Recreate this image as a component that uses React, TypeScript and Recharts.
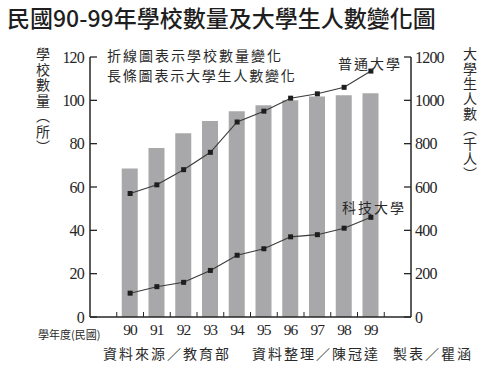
import { ComposedChart, Bar, Line, XAxis, YAxis } from "recharts";

// 民國90-99年 學校數量(折線, 左軸) 與 大學生人數(長條, 右軸)
const years = ["90", "91", "92", "93", "94", "95", "96", "97", "98", "99"];
const students = [685, 780, 848, 905, 950, 977, 1000, 1018, 1024, 1033]; // 千人
const generalUniv = [57, 61, 68, 76, 90, 95, 101, 103, 106, 113.5]; // 普通大學(所)
const techUniv = [11, 14, 16, 21.5, 28.5, 31.5, 37, 38, 41, 46]; // 科技大學(所)
const leftTicks = [0, 20, 40, 60, 80, 100, 120];
const rightTicks = [0, 200, 400, 600, 800, 1000, 1200];

const data = years.map((year, i) => ({
  year,
  students: students[i],
  general: generalUniv[i],
  tech: techUniv[i],
}));

const W = 490;
const H = 366;
const PLOT = { left: 90, right: 411, top: 57, bottom: 317 };
const Y_AXIS_W = 40;
const X_AXIS_H = 30;
const pad = (PLOT.right - PLOT.left) / 12;

const INK = "#262626";
const BAR = "#a8a8aa";
const NUM_FONT = '"Liberation Serif", "DejaVu Serif", serif';
const CJK_FONT = '"Noto Sans CJK TC", "Noto Sans CJK SC", sans-serif';

function LeftTick(props: any) {
  const { x, y, payload } = props;
  return (
    <g>
      <line x1={x} x2={x + 7} y1={y} y2={y} stroke={INK} strokeWidth={1.3} />
      <text x={x - 6} y={y} dy="0.36em" textAnchor="end" fill={INK} fontFamily={NUM_FONT} fontSize={16} letterSpacing={-0.8}>
        {payload.value}
      </text>
    </g>
  );
}

function RightTick(props: any) {
  const { x, y, payload } = props;
  return (
    <g>
      <line x1={x} x2={x - 7} y1={y} y2={y} stroke={INK} strokeWidth={1.3} />
      <text x={x + 4} y={y} dy="0.36em" textAnchor="start" fill={INK} fontFamily={NUM_FONT} fontSize={16} letterSpacing={-0.8}>
        {payload.value}
      </text>
    </g>
  );
}

// category tick: label under the bar, small inward marks on the band edges
function YearTick(props: any) {
  const { x, y, payload, index, visibleTicksCount } = props;
  const half = pad / 2;
  const base = PLOT.bottom;
  const last = index === (visibleTicksCount ?? years.length) - 1;
  return (
    <g>
      <line x1={x - half} x2={x - half} y1={base} y2={base - 5} stroke={INK} strokeWidth={1} />
      {last && <line x1={x + half} x2={x + half} y1={base} y2={base - 5} stroke={INK} strokeWidth={1} />}
      <text x={x} y={y} dy="0.71em" textAnchor="middle" fill={INK} fontFamily={NUM_FONT} fontSize={15.5} letterSpacing={-0.8}>
        {payload.value}
      </text>
    </g>
  );
}

function SquareDot(props: any) {
  const { cx, cy } = props;
  return <rect x={cx - 2.5} y={cy - 2.5} width={5} height={5} fill="#1e1e1e" />;
}

const cjk = (size: number, extra: any = {}) => ({
  position: "absolute" as const,
  fontFamily: CJK_FONT,
  fontSize: size,
  lineHeight: 1,
  color: "#2a2a2a",
  whiteSpace: "nowrap" as const,
  ...extra,
});

export default function App() {
  return (
    <div style={{ position: "absolute", left: 0, top: 0, width: W, height: H, background: "#fff", overflow: "hidden" }}>
      <ComposedChart
        width={W}
        height={H}
        data={data}
        margin={{
          top: PLOT.top,
          left: PLOT.left - Y_AXIS_W,
          right: W - PLOT.right - Y_AXIS_W,
          bottom: H - PLOT.bottom - X_AXIS_H,
        }}
      >
        <XAxis
          dataKey="year"
          height={X_AXIS_H}
          padding={{ left: pad, right: pad }}
          axisLine={{ stroke: INK, strokeWidth: 1.5 }}
          tickLine={false}
          tickSize={0}
          tickMargin={7}
          interval={0}
          tick={(p: any) => <YearTick {...p} />}
        />
        <YAxis
          yAxisId="left"
          orientation="left"
          width={Y_AXIS_W}
          domain={[0, 120]}
          ticks={leftTicks}
          axisLine={{ stroke: INK, strokeWidth: 1.5 }}
          tickLine={false}
          tickSize={0}
          tickMargin={0}
          tick={(p: any) => <LeftTick {...p} />}
        />
        <YAxis
          yAxisId="right"
          orientation="right"
          width={Y_AXIS_W}
          domain={[0, 1200]}
          ticks={rightTicks}
          axisLine={{ stroke: INK, strokeWidth: 1.5 }}
          tickLine={false}
          tickSize={0}
          tickMargin={0}
          tick={(p: any) => <RightTick {...p} />}
        />
        <Bar yAxisId="right" dataKey="students" fill={BAR} barSize={16} isAnimationActive={false} />
        <Line yAxisId="left" type="linear" dataKey="general" stroke="#3a3a3a" strokeWidth={1.1} dot={(p: any) => <SquareDot key={`g${p.index}`} {...p} />} activeDot={false} isAnimationActive={false} />
        <Line yAxisId="left" type="linear" dataKey="tech" stroke="#3a3a3a" strokeWidth={1.1} dot={(p: any) => <SquareDot key={`t${p.index}`} {...p} />} activeDot={false} isAnimationActive={false} />
      </ComposedChart>

      <div style={cjk(23, { left: 7, top: 6, fontWeight: 500, color: "#1e1e1e" })}>民國90-99年學校數量及大學生人數變化圖</div>

      <div style={cjk(14, { left: 36, top: 47, writingMode: "vertical-rl", letterSpacing: 1.5 })}>學校數量（所）</div>
      <div style={cjk(14, { left: 463, top: 47, writingMode: "vertical-rl", letterSpacing: 1 })}>大學生人數（千人）</div>

      <div style={cjk(14, { left: 107, top: 48, letterSpacing: 2 })}>折線圖表示學校數量變化</div>
      <div style={cjk(14, { left: 107, top: 68, letterSpacing: 1.8 })}>長條圖表示大學生人數變化</div>

      <div style={cjk(14, { left: 338, top: 56, letterSpacing: 2 })}>普通大學</div>
      <div style={cjk(14, { left: 342, top: 200, letterSpacing: 2 })}>科技大學</div>

      <div style={cjk(11, { left: 38, top: 329 })}>學年度(民國)</div>

      <div style={cjk(14, { left: 103, top: 346, letterSpacing: 2 })}>資料來源／教育部</div>
      <div style={cjk(14, { left: 252, top: 346, letterSpacing: 2 })}>資料整理／陳冠達</div>
      <div style={cjk(14, { left: 393, top: 346, letterSpacing: 2 })}>製表／瞿涵</div>
    </div>
  );
}
